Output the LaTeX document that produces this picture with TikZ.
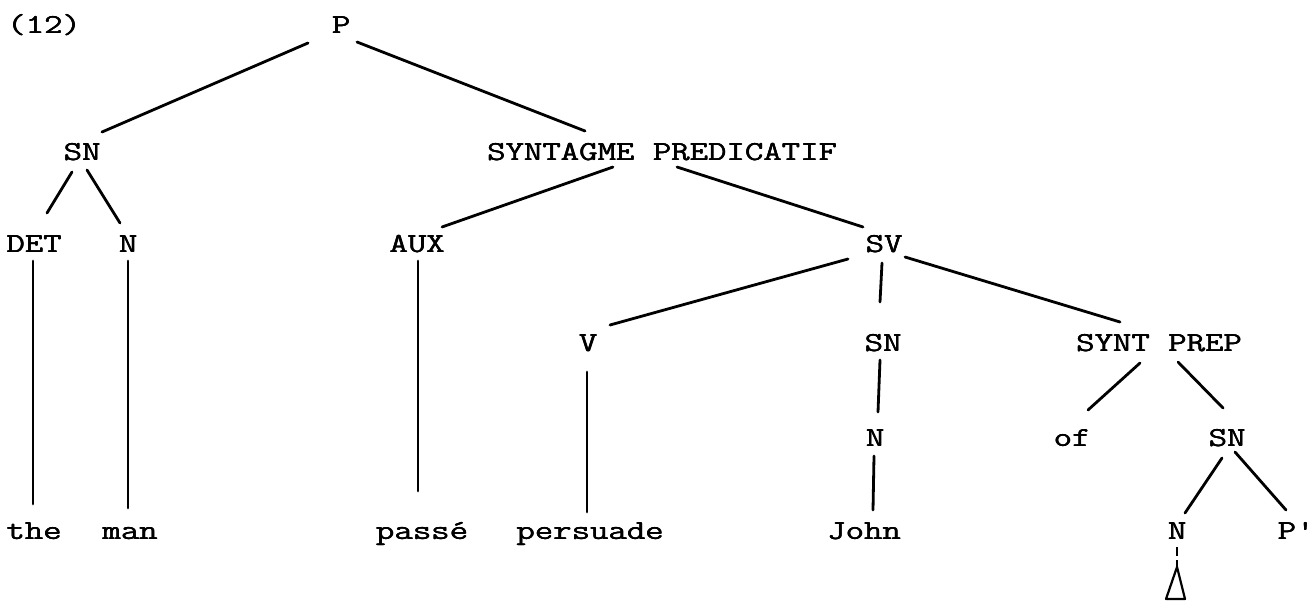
\documentclass[tikz,border=0pt]{standalone}
\usepackage{fontspec}
\usepackage{graphicx}
\usetikzlibrary{calc}
\newcommand{\tws}[1]{\scalebox{1.3}[1]{\rlap{\hspace{0.35pt}#1}\rlap{\raisebox{0.3pt}{#1}}#1}}
\tikzset{
  lbl/.style={font=\ttfamily\fontsize{27.5}{33}\selectfont, inner sep=0pt, anchor=center, text height=17pt, text depth=0pt},
  br/.style={line width=2.8pt, line cap=round},
  brdash/.style={line width=2.8pt, dash pattern=on 9pt off 4pt}
}
\begin{document}
\begin{tikzpicture}[x=1pt,y=-1pt]
\useasboundingbox (0,0) rectangle (1316,600);
% labels
\node[lbl] (num) at (44,25) {\tws{(12)}};
\node[lbl] (P) at (341,25) {\tws{P}};
\node[lbl] (SN1) at (82,152) {\tws{SN}};
\node[lbl] (SP) at (662,152) {\tws{SYNTAGME PREDICATIF}};
\node[lbl] (DET) at (34,244) {\tws{DET}};
\node[lbl] (N1) at (128,244) {\tws{N}};
\node[lbl] (AUX) at (417,244) {\tws{AUX}};
\node[lbl] (SV) at (884,244) {\tws{SV}};
\node[lbl] (V) at (588,343) {\tws{V}};
\node[lbl] (SN2) at (883,343) {\tws{SN}};
\node[lbl] (SPP) at (1159,343) {\tws{SYNT PREP}};
\node[lbl] (N2) at (875,438) {\tws{N}};
\node[lbl] (of) at (1072,438) {\tws{of}};
\node[lbl] (SN3) at (1227,438) {\tws{SN}};
\node[lbl] (the) at (34,531) {\tws{the}};
\node[lbl] (man) at (130,531) {\tws{man}};
\node[lbl] (passe) at (422,531) {\tws{passé}};
\node[lbl] (pers) at (590,531) {\tws{persuade}};
\node[lbl] (John) at (864,531) {\tws{John}};
\node[lbl] (N3) at (1177,531) {\tws{N}};
\node[lbl] (Pp) at (1296,531) {\tws{P'}};
\coordinate (apex) at (1177,567);
% branches
\draw[br] ($(P)+(-33,18)$) -- ($(SN1)+(20,-20)$);
\draw[br] ($(P)+(16,17)$) -- ($(SP)+(-77,-21)$);
\draw[br] ($(SN1)+(-10,20)$) -- ($(DET)+(13,-31)$);
\draw[br] ($(SN1)+(5,18)$) -- ($(N1)+(-8,-21)$);
\draw[br] ($(SP)+(-49,15)$) -- ($(AUX)+(25,-17)$);
\draw[br] ($(SP)+(15,15)$) -- ($(SV)+(-21,-17)$);
\draw[br] ($(DET)+(-1,17)$) -- ($(the)+(-1,-27)$);
\draw[br] ($(N1)+(0,17)$) -- ($(man)+(-2,-23)$);
\draw[br] ($(AUX)+(1,17)$) -- ($(passe)+(-4,-40)$);
\draw[br] ($(V)+(-1,29)$) -- ($(pers)+(-3,-19)$);
\draw[br] ($(SV)+(-36,15)$) -- ($(V)+(22,-18)$);
\draw[br] ($(SV)+(-2,19)$) -- ($(SN2)+(-3,-41)$);
\draw[br] ($(SV)+(21,13)$) -- ($(SPP)+(-39,-21)$);
\draw[br] ($(SN2)+(-3,17)$) -- ($(N2)+(3,-26)$);
\draw[br] ($(N2)+(-1,18)$) -- ($(John)+(9,-21)$);
\draw[br] ($(SPP)+(-19,20)$) -- ($(of)+(16,-28)$);
\draw[br] ($(SPP)+(19,19)$) -- ($(SN3)+(-4,-30)$);
\draw[br] ($(SN3)+(-5,20)$) -- ($(N3)+(8,-18)$);
\draw[br] ($(SN3)+(8,14)$) -- ($(Pp)+(-10,-21)$);
\draw[brdash] ($(N3)+(0,16)$) -- (apex);
\draw[line width=2.2pt, line join=round] (apex) -- ($(apex)+(-11,32)$) -- ($(apex)+(8,32)$) -- cycle;
\end{tikzpicture}
\end{document}
